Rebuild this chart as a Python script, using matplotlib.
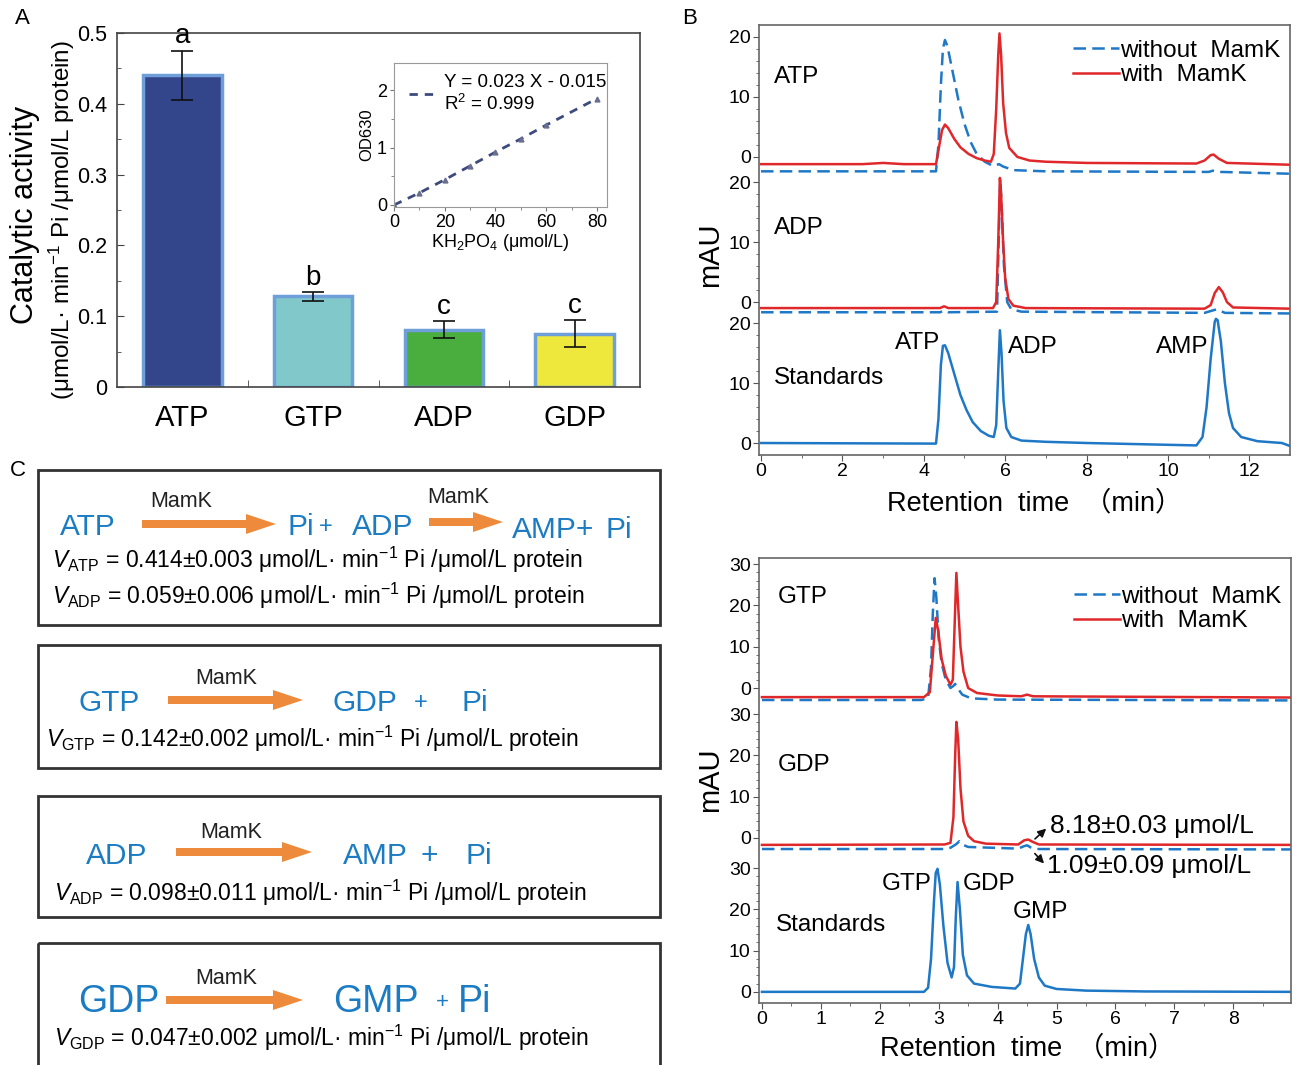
import numpy as np
import matplotlib
matplotlib.use("Agg")
import matplotlib.pyplot as plt
from matplotlib.patches import Rectangle, FancyArrow
from matplotlib.lines import Line2D

plt.rcParams['font.family'] = ['Liberation Sans', 'Noto Sans CJK SC', 'DejaVu Sans']
plt.rcParams['mathtext.fontset'] = 'custom'
plt.rcParams['mathtext.rm'] = 'Liberation Sans'
plt.rcParams['mathtext.it'] = 'Liberation Sans:italic'
plt.rcParams['mathtext.bf'] = 'Liberation Sans:bold'

# ---------------- data ----------------
# panel A: catalytic activity
nucleotides = ['ATP', 'GTP', 'ADP', 'GDP']
activity = [0.440, 0.128, 0.081, 0.075]
activity_err = [0.035, 0.006, 0.012, 0.019]
sig_letters = ['a', 'b', 'c', 'c']

# inset: phosphate standard curve
kh2po4 = [0, 10, 20, 30, 40, 50, 60, 80]
od630 = [0.00, 0.21, 0.44, 0.68, 0.92, 1.15, 1.39, 1.85]

# panel B (top): adenine nucleotides, time in min, signal in mAU
atp_wo_t = [0, 4.3, 4.36, 4.42, 4.47, 4.52, 4.58, 4.7, 4.85, 5.0, 5.15, 5.3, 5.5, 5.7, 5.85, 5.95, 6.2, 7, 11, 11.1, 11.3, 13]
atp_wo_y = [-2.4, -2.4, 2, 12, 18, 19.5, 18.5, 14.5, 9.5, 5.5, 2.5, 0.5, -0.8, -1.5, -1.2, -1.6, -2.2, -2.4, -2.5, -2.3, -2.5, -2.8]
atp_w_t = [0, 2.5, 3, 3.5, 4.3, 4.37, 4.45, 4.52, 4.6, 4.75, 4.9, 5.1, 5.3, 5.5, 5.65, 5.72, 5.78, 5.83, 5.86,
           5.9, 5.95, 6.02, 6.1, 6.3, 6.6, 7, 8, 10.7, 10.9, 11.05, 11.12, 11.25, 11.45, 13]
atp_w_y = [-1.2, -1.2, -1.0, -1.2, -1.2, 1.5, 4.5, 5.4, 4.8, 3.0, 1.6, 0.5, -0.2, -0.6, -0.8, 0.5, 8, 17, 20.6,
           17, 9, 4, 1.5, 0, -0.6, -0.8, -1.0, -1.1, -0.6, 0.3, 0.4, -0.3, -1.0, -1.3]
adp_wo_t = [0, 4.4, 4.5, 4.6, 5.8, 5.84, 5.88, 5.92, 5.97, 6.05, 6.15, 6.4, 10.9, 11.2, 11.4, 13]
adp_wo_y = [-1.7, -1.7, -1.4, -1.7, -1.6, 10, 20.5, 15, 6, 0, -1.2, -1.6, -1.8, -1.2, -1.8, -1.9]
adp_w_t = [0, 4.4, 4.5, 4.6, 5.7, 5.78, 5.83, 5.87, 5.9, 5.95, 6.0, 6.08, 6.2, 6.5, 10.9, 11.05, 11.15, 11.25,
           11.35, 11.45, 11.6, 13]
adp_w_y = [-1.0, -1.0, -0.7, -1.0, -1.0, 0, 10, 20.7, 18, 10, 4, 0.5, -0.6, -1.0, -1.1, -0.5, 1.5, 2.5,
           1.6, 0, -0.9, -1.1]
std_a_t = [0, 4.3, 4.36, 4.42, 4.47, 4.52, 4.6, 4.75, 4.9, 5.05, 5.2, 5.4, 5.6, 5.72, 5.78, 5.83, 5.87, 5.91,
           5.96, 6.03, 6.15, 6.4, 7, 8, 10, 10.7, 10.85, 10.95, 11.05, 11.15, 11.18, 11.22, 11.3, 11.4, 11.5,
           11.6, 11.8, 12.2, 12.8, 13]
std_a_y = [0, -0.1, 4, 13, 16.2, 16.3, 15, 11.5, 8, 5.5, 3.5, 2, 1.2, 1.0, 3, 12, 18.8, 15,
           7, 2.5, 1.0, 0.4, 0.2, 0, -0.3, -0.4, 1, 6, 14, 20.2, 20.7, 20.5, 17, 10, 5,
           2.5, 1.0, 0.3, 0, -0.5]

# panel B (bottom): guanine nucleotides
gtp_wo_t = [0, 2.7, 2.82, 2.87, 2.9, 2.93, 2.96, 3.0, 3.05, 3.12, 3.2, 3.25, 3.28, 3.32, 3.4, 3.55, 4, 9]
gtp_wo_y = [-2.9, -2.9, -2.5, 5, 18, 26.6, 22, 12, 6, 2, 0, 0.5, 1, 0, -1.6, -2.5, -2.8, -3.0]
gtp_w_t = [0, 2.75, 2.85, 2.9, 2.95, 2.99, 3.05, 3.12, 3.2, 3.24, 3.27, 3.3, 3.33, 3.37, 3.42, 3.5, 3.65,
           4, 4.4, 4.5, 4.6, 9]
gtp_w_y = [-2.2, -2.2, -1, 8, 17, 14, 7, 3, 0.8, 2, 15, 27.9, 20, 10, 4, 0, -1.2,
           -1.8, -2.0, -1.6, -2.0, -2.3]
gdp_wo_t = [0, 3.1, 3.2, 3.3, 3.35, 3.4, 3.5, 4.35, 4.45, 4.5, 4.56, 4.65, 9]
gdp_wo_y = [-2.7, -2.7, -2.4, -1.5, -0.8, -1.6, -2.2, -2.6, -2.0, -1.8, -2.3, -2.7, -2.8]
gdp_w_t = [0, 3.1, 3.2, 3.25, 3.28, 3.3, 3.33, 3.37, 3.42, 3.5, 3.6, 3.8, 4.35, 4.45, 4.52, 4.6, 4.7, 9]
gdp_w_y = [-1.7, -1.6, -1.2, 5, 20, 28.1, 24, 12, 4, 0.5, -0.8, -1.4, -1.6, -0.6, -0.4, -1.0, -1.6, -1.7]
std_g_t = [0, 2.75, 2.82, 2.87, 2.92, 2.95, 2.98, 3.02, 3.08, 3.15, 3.22, 3.26, 3.29, 3.32, 3.36, 3.41, 3.48, 3.6,
           3.9, 4.3, 4.38, 4.43, 4.48, 4.52, 4.56, 4.62, 4.7, 4.8, 5.0, 5.5, 6.5, 9]
std_g_y = [0, 0, 1, 8, 22, 28.8, 29.8, 26, 16, 7, 3.5, 6, 18, 26.6, 20, 9, 4, 2,
           1.2, 0.8, 2, 8, 14, 16.2, 14, 8, 3.5, 1.5, 0.7, 0.3, 0.1, 0]

# panel C: reaction rates
rate_lines = [
    r'$V_{\mathrm{ATP}}$ = 0.414±0.003 μmol/L· min$^{-1}$ Pi /μmol/L protein',
    r'$V_{\mathrm{ADP}}$ = 0.059±0.006 μmol/L· min$^{-1}$ Pi /μmol/L protein',
    r'$V_{\mathrm{GTP}}$ = 0.142±0.002 μmol/L· min$^{-1}$ Pi /μmol/L protein',
    r'$V_{\mathrm{ADP}}$ = 0.098±0.011 μmol/L· min$^{-1}$ Pi /μmol/L protein',
    r'$V_{\mathrm{GDP}}$ = 0.047±0.002 μmol/L· min$^{-1}$ Pi /μmol/L protein',
]

# ---------------- layout ----------------
W, H = 1301, 1065
BLUE = '#1f78c6'
RED = '#e0282a'
TXT_BLUE = '#1b7cc3'
ORANGE = '#ee8a3c'


def box(l, t, r, b):
    return [l / W, 1 - b / H, (r - l) / W, (b - t) / H]


fig = plt.figure(figsize=(W / 100, H / 100), dpi=100)

# overlay in pixel coordinates for annotations
axc = fig.add_axes([0, 0, 1, 1])
axc.set_xlim(0, W)
axc.set_ylim(H, 0)
axc.axis('off')

# ---------------- panel A ----------------
ax_a = fig.add_axes(box(117, 33, 640, 387))
x = np.arange(len(nucleotides))
bar_colors = ['#33468c', '#80c8c9', '#4aae3e', '#efe83c']
ax_a.bar(x, activity, width=0.6, color=bar_colors, edgecolor='#6e9fd8', linewidth=2.5, zorder=2)
ax_a.errorbar(x, activity, yerr=activity_err, fmt='none', ecolor='#111111', elinewidth=1.2,
              capsize=8, capthick=1.2, zorder=3)
for xi, v, e, s in zip(x, activity, activity_err, sig_letters):
    ax_a.text(xi, v + e + 0.002, s, ha='center', va='bottom', fontsize=20)
ax_a.set_xlim(-0.5, 3.5)
ax_a.set_ylim(0, 0.5)
ax_a.set_yticks([0, 0.1, 0.2, 0.3, 0.4, 0.5])
ax_a.set_yticklabels(['0', '0.1', '0.2', '0.3', '0.4', '0.5'])
ax_a.set_yticks(np.arange(0.05, 0.5, 0.1), minor=True)
ax_a.set_xticks(x)
ax_a.set_xticklabels(nucleotides)
ax_a.set_xticks([0.5, 1.5, 2.5], minor=True)
ax_a.tick_params(axis='y', which='both', direction='in', labelsize=15.5, pad=7, color='#444')
ax_a.tick_params(axis='y', which='major', length=5)
ax_a.tick_params(axis='y', which='minor', length=3)
ax_a.tick_params(axis='x', which='major', length=0, labelsize=21, pad=12)
ax_a.tick_params(axis='x', which='minor', direction='in', length=5, color='#444')
for sp in ax_a.spines.values():
    sp.set_color('#444444')
    sp.set_linewidth(1.2)

axc.text(25, 215, 'Catalytic activity', rotation=90, ha='center', va='center', fontsize=22)
axc.text(62, 220, '(μmol/L· min$^{-1}$ Pi /μmol/L protein)', rotation=90, ha='center', va='center',
         fontsize=17.5)

# inset
ax_i = fig.add_axes(box(394, 63, 607, 207))
ax_i.plot(kh2po4, od630, ls=(0, (3, 2.5)), color='#3d4a7e', lw=2, marker='^', ms=3.5,
          markerfacecolor='#6a6f90', markeredgecolor='#6a6f90')
ax_i.set_xlim(0, 84)
ax_i.set_ylim(-0.035, 2.47)
ax_i.set_xticks([0, 20, 40, 60, 80])
ax_i.set_xticks([10, 30, 50, 70], minor=True)
ax_i.set_yticks([0, 1, 2])
ax_i.set_yticks([0.5, 1.5], minor=True)
ax_i.tick_params(labelsize=13, length=3, pad=2, color='#777')
ax_i.tick_params(which='minor', length=2, color='#777')
ax_i.set_xlabel('KH$_2$PO$_4$ (μmol/L)', fontsize=13, labelpad=1)
ax_i.set_ylabel('OD630', fontsize=12, labelpad=2)
for sp in ax_i.spines.values():
    sp.set_color('#999999')
ax_i.legend([Line2D([], [], ls=(0, (3, 2.5)), color='#3d4a7e', lw=2)],
            ['Y = 0.023 X - 0.015\nR$^2$ = 0.999'], loc='upper left', bbox_to_anchor=(-0.01, 1.04),
            frameon=False, fontsize=13.5, handlelength=1.6, handletextpad=0.3)

# ---------------- panel B ----------------
dash = (0, (5, 2.5))


def chrom_axes(ax, ticks_per_seg, offsets, xmax_ticks, minor_x):
    major = [o + v for o in offsets for v in ticks_per_seg]
    labels = [str(v) for o in offsets for v in ticks_per_seg]
    ax.set_yticks(major)
    ax.set_yticklabels(labels)
    step = ticks_per_seg[1] / 5
    minor = [o + v for o in offsets for v in np.arange(step, ticks_per_seg[-1], step)]
    ax.set_yticks(minor, minor=True)
    ax.set_xticks(xmax_ticks)
    ax.set_xticks(minor_x, minor=True)
    ax.tick_params(labelsize=14, length=4, pad=2, color='#555')
    ax.tick_params(which='minor', length=2, color='#555')
    for sp in ax.spines.values():
        sp.set_color('#666666')
        sp.set_linewidth(1.2)


# top: adenine
off_atp, off_adp, off_std = 47.7, 23.5, 0.0
ax_b1 = fig.add_axes(box(759, 25, 1290, 455))
ax_b1.plot(atp_wo_t, np.array(atp_wo_y) + off_atp, color=BLUE, ls=dash, lw=1.8)
ax_b1.plot(atp_w_t, np.array(atp_w_y) + off_atp, color=RED, lw=1.8)
ax_b1.plot(adp_wo_t, np.array(adp_wo_y) + off_adp, color=BLUE, ls=dash, lw=1.8)
ax_b1.plot(adp_w_t, np.array(adp_w_y) + off_adp, color=RED, lw=1.8)
ax_b1.plot(std_a_t, np.array(std_a_y) + off_std, color=BLUE, lw=1.8)
ax_b1.set_xlim(-0.05, 13.0)
ax_b1.set_ylim(-2, 69.7)
chrom_axes(ax_b1, [0, 10, 20], [off_atp, off_adp, off_std], np.arange(0, 13, 2), np.arange(1, 13, 2))
ax_b1.text(0.32, 61, 'ATP', fontsize=17.5, va='center')
ax_b1.text(0.32, 35.8, 'ADP', fontsize=17.5, va='center')
ax_b1.text(0.32, 10.8, 'Standards', fontsize=17.5, va='center')
ax_b1.text(4.4, 16.7, 'ATP', fontsize=17.5, va='center', ha='right')
ax_b1.text(6.07, 16.0, 'ADP', fontsize=17.5, va='center')
ax_b1.text(11.0, 16.0, 'AMP', fontsize=17.5, va='center', ha='right')
ax_b1.legend([Line2D([], [], color=BLUE, ls=dash, lw=1.8), Line2D([], [], color=RED, lw=1.8)],
             ['without  MamK', 'with  MamK'], loc='upper right', bbox_to_anchor=(1.01, 1.0),
             frameon=False, fontsize=17.5, handlelength=1.9, handletextpad=0.05, labelspacing=0.1,
             borderaxespad=0.2)
axc.text(710, 255, 'mAU', rotation=90, ha='center', va='center', fontsize=21)
axc.text(1035, 503, 'Retention  time  （min）', ha='center', va='center', fontsize=19.5)

# bottom: guanine
off_gtp, off_gdp = 73.6, 37.3
ax_b2 = fig.add_axes(box(759, 558, 1291, 1003))
ax_b2.plot(gtp_wo_t, np.array(gtp_wo_y) + off_gtp, color=BLUE, ls=dash, lw=1.8)
ax_b2.plot(gtp_w_t, np.array(gtp_w_y) + off_gtp, color=RED, lw=1.8)
ax_b2.plot(gdp_wo_t, np.array(gdp_wo_y) + off_gdp, color=BLUE, ls=dash, lw=1.8)
ax_b2.plot(gdp_w_t, np.array(gdp_w_y) + off_gdp, color=RED, lw=1.8)
ax_b2.plot(std_g_t, np.array(std_g_y) + off_std, color=BLUE, lw=1.8)
ax_b2.set_xlim(-0.05, 8.98)
ax_b2.set_ylim(-2.7, 105.1)
chrom_axes(ax_b2, [0, 10, 20, 30], [off_gtp, off_gdp, off_std], np.arange(0, 9, 1), np.arange(0.5, 9, 1))
ax_b2.text(0.27, 95.6, 'GTP', fontsize=17.5, va='center')
ax_b2.text(0.27, 55.0, 'GDP', fontsize=17.5, va='center')
ax_b2.text(0.24, 16.2, 'Standards', fontsize=17.5, va='center')
ax_b2.text(2.88, 26.1, 'GTP', fontsize=17.5, va='center', ha='right')
ax_b2.text(3.41, 26.1, 'GDP', fontsize=17.5, va='center')
ax_b2.text(4.26, 19.4, 'GMP', fontsize=17.5, va='center')
ax_b2.text(4.89, 40.2, '8.18±0.03 μmol/L', fontsize=19, va='center')
ax_b2.text(4.84, 30.5, '1.09±0.09 μmol/L', fontsize=19, va='center')
ax_b2.annotate('', xy=(4.86, 40.0), xytext=(4.6, 36.6),
               arrowprops=dict(arrowstyle='-|>', color='#111', lw=1.2, mutation_scale=12))
ax_b2.annotate('', xy=(4.82, 30.6), xytext=(4.6, 34.0),
               arrowprops=dict(arrowstyle='-|>', color='#111', lw=1.2, mutation_scale=12))
ax_b2.legend([Line2D([], [], color=BLUE, ls=dash, lw=1.8), Line2D([], [], color=RED, lw=1.8)],
             ['without  MamK', 'with  MamK'], loc='upper right', bbox_to_anchor=(1.01, 0.97),
             frameon=False, fontsize=17.5, handlelength=1.9, handletextpad=0.05, labelspacing=0.1,
             borderaxespad=0.2)
axc.text(710, 780, 'mAU', rotation=90, ha='center', va='center', fontsize=21)
axc.text(1028, 1048, 'Retention  time  （min）', ha='center', va='center', fontsize=19.5)

# ---------------- panel C ----------------
for top, bot in [(470, 625), (645, 768), (796, 917), (943, 1080)]:
    axc.add_patch(Rectangle((38, top), 622, bot - top, fill=False, ec='#333333', lw=2))


def arrow(x0, x1, y):
    axc.add_patch(FancyArrow(x0, y, x1 - x0, 0, width=8, head_width=20, head_length=30,
                             length_includes_head=True, color=ORANGE, lw=0))


def blue(xp, yp, s, fs=21.5):
    axc.text(xp, yp, s, color=TXT_BLUE, fontsize=fs, va='baseline')


def mamk(xp, yp):
    axc.text(xp, yp, 'MamK', color='#222222', fontsize=15.5, va='baseline')


# box 1
blue(60, 535, 'ATP')
mamk(150, 507)
arrow(142, 276, 524)
blue(288, 535, 'Pi')
blue(319, 533, '+', fs=17)
blue(352, 535, 'ADP')
mamk(427, 503)
arrow(429, 503, 522)
blue(512, 538, 'AMP+')
blue(605, 538, 'Pi')
axc.text(52, 568, rate_lines[0], fontsize=16.5, va='baseline')
axc.text(52, 604, rate_lines[1], fontsize=16.5, va='baseline')

# box 2
blue(78, 711, 'GTP')
mamk(195, 684)
arrow(168, 303, 700)
blue(333, 711, 'GDP')
blue(414, 709, '+', fs=17)
blue(462, 711, 'Pi')
axc.text(46, 747, rate_lines[2], fontsize=16.5, va='baseline')

# box 3
blue(86, 864, 'ADP')
mamk(200, 838)
arrow(176, 312, 852)
blue(343, 864, 'AMP')
blue(420, 864, '+')
blue(466, 864, 'Pi')
axc.text(54, 901, rate_lines[3], fontsize=16.5, va='baseline')

# box 4
blue(78, 1012, 'GDP', fs=27)
mamk(195, 984)
arrow(166, 303, 1000)
blue(333, 1012, 'GMP', fs=27)
blue(436, 1008, '+', fs=16)
blue(458, 1012, 'Pi', fs=27)
axc.text(54, 1046, rate_lines[4], fontsize=16.5, va='baseline')

# panel letters
axc.text(22, 18, 'A', fontsize=16, ha='center', va='center')
axc.text(690, 18, 'B', fontsize=16, ha='center', va='center')
axc.text(18, 470, 'C', fontsize=16, ha='center', va='center')

fig.savefig('out.png', dpi=100)
